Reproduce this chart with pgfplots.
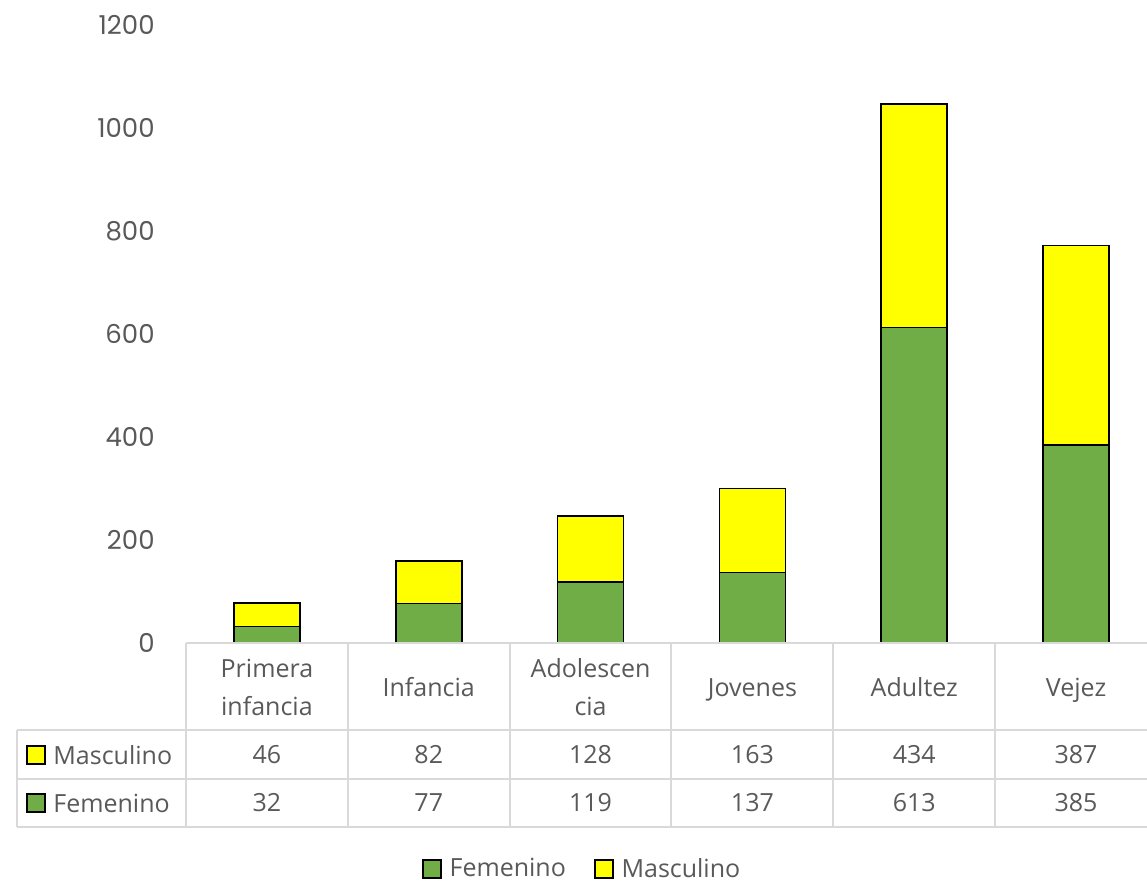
\documentclass[border=0pt]{standalone}
\usepackage{pgfplots}
\pgfplotsset{compat=1.18}
\usepackage{fontspec}
\setmainfont{Open Sans}
\newfontfamily\tickfont{Poppins}
\definecolor{fem}{HTML}{70AD47}
\definecolor{mas}{HTML}{FFFF00}
\definecolor{txt}{HTML}{595959}
\definecolor{grd}{HTML}{D9D9D9}
\newcommand\tabfont{\fontsize{12.5}{19}\selectfont}
\begin{document}
\begin{tikzpicture}
\begin{axis}[
  at={(93pt,-321.5pt)}, anchor=south west,
  scale only axis, width=485.5pt, height=309pt,
  ybar stacked, bar width=33pt,
  xmin=-0.5, xmax=5.5, ymin=0, ymax=1200,
  ytick={0,200,...,1200},
  xtick={0,...,5},
  xticklabels={{Primera\strut\\infancia\strut},{Infancia\strut},{Adolescen\strut\\cia\strut},{Jovenes\strut},{Adultez\strut},{Vejez\strut}},
  xticklabel style={align=center, anchor=center, yshift=-23pt, font=\tabfont, text=txt, inner sep=0pt},
  yticklabel style={font=\tickfont\fontsize{13}{15}\selectfont, text=txt, inner sep=0pt, xshift=-15.5pt},
  /pgf/number format/assume math mode=true,
  /pgf/number format/1000 sep={},
  axis line style={draw=none},
  major tick length=0pt,
  clip=false,
  legend style={at={(0.409,-0.366)}, anchor=center, draw=none, fill=none,
    legend columns=2, font=\tabfont, text=txt,
    /tikz/every odd column/.append style={column sep=2pt},
    /tikz/every even column/.append style={column sep=12pt}},
  legend image code/.code={\draw[#1, draw=black, line width=0.8pt] (0pt,-4.5pt) rectangle (9pt,4.5pt);},
]
\addplot[fill=fem, draw=black, line width=0.8pt] coordinates {(0,32) (1,77) (2,119) (3,137) (4,613) (5,385)};
\addplot[fill=mas, draw=black, line width=0.8pt] coordinates {(0,46) (1,82) (2,128) (3,163) (4,434) (5,387)};
\legend{Femenino, Masculino}
\end{axis}
\begin{axis}[
  at={(93pt,-321.5pt)}, anchor=north west,
  scale only axis, width=485.5pt, height=92pt,
  xmin=-0.5, xmax=5.5, ymin=-827, ymax=-643,
  hide axis, clip=false,
  nodes near coords style={anchor=center, font=\tabfont, text=txt},
]
\addplot[draw=none, mark=none, nodes near coords, point meta=explicit symbolic]
  coordinates {(0,-754.5)[46] (1,-754.5)[82] (2,-754.5)[128] (3,-754.5)[163] (4,-754.5)[434] (5,-754.5)[387]};
\addplot[draw=none, mark=none, nodes near coords, point meta=explicit symbolic]
  coordinates {(0,-803)[32] (1,-803)[77] (2,-803)[119] (3,-803)[137] (4,-803)[613] (5,-803)[385]};
\end{axis}
\begin{scope}[x=0.5pt, y=-0.5pt]
  \begin{scope}[draw=grd, line width=1pt]
    \draw (186,643) -- (1160,643);
    \draw (17,730) -- (1160,730);
    \draw (17,779) -- (1160,779);
    \draw (17,827) -- (1160,827);
    \draw (17,730) -- (17,827);
    \foreach \k in {0,...,6} \draw ({186+161.83*\k},643) -- ({186+161.83*\k},827);
  \end{scope}
  \draw[black, line width=0.8pt, fill=mas] (27,746) rectangle (45,764);
  \node[anchor=west, inner sep=0pt, font=\tabfont, text=txt] at (53,755) {Masculino};
  \draw[black, line width=0.8pt, fill=fem] (27,794) rectangle (45,812);
  \node[anchor=west, inner sep=0pt, font=\tabfont, text=txt] at (53,803) {Femenino};
\end{scope}
\pgfresetboundingbox
\path[use as bounding box] (0pt,0pt) rectangle (573.5pt,-441pt);
\end{tikzpicture}
\end{document}
